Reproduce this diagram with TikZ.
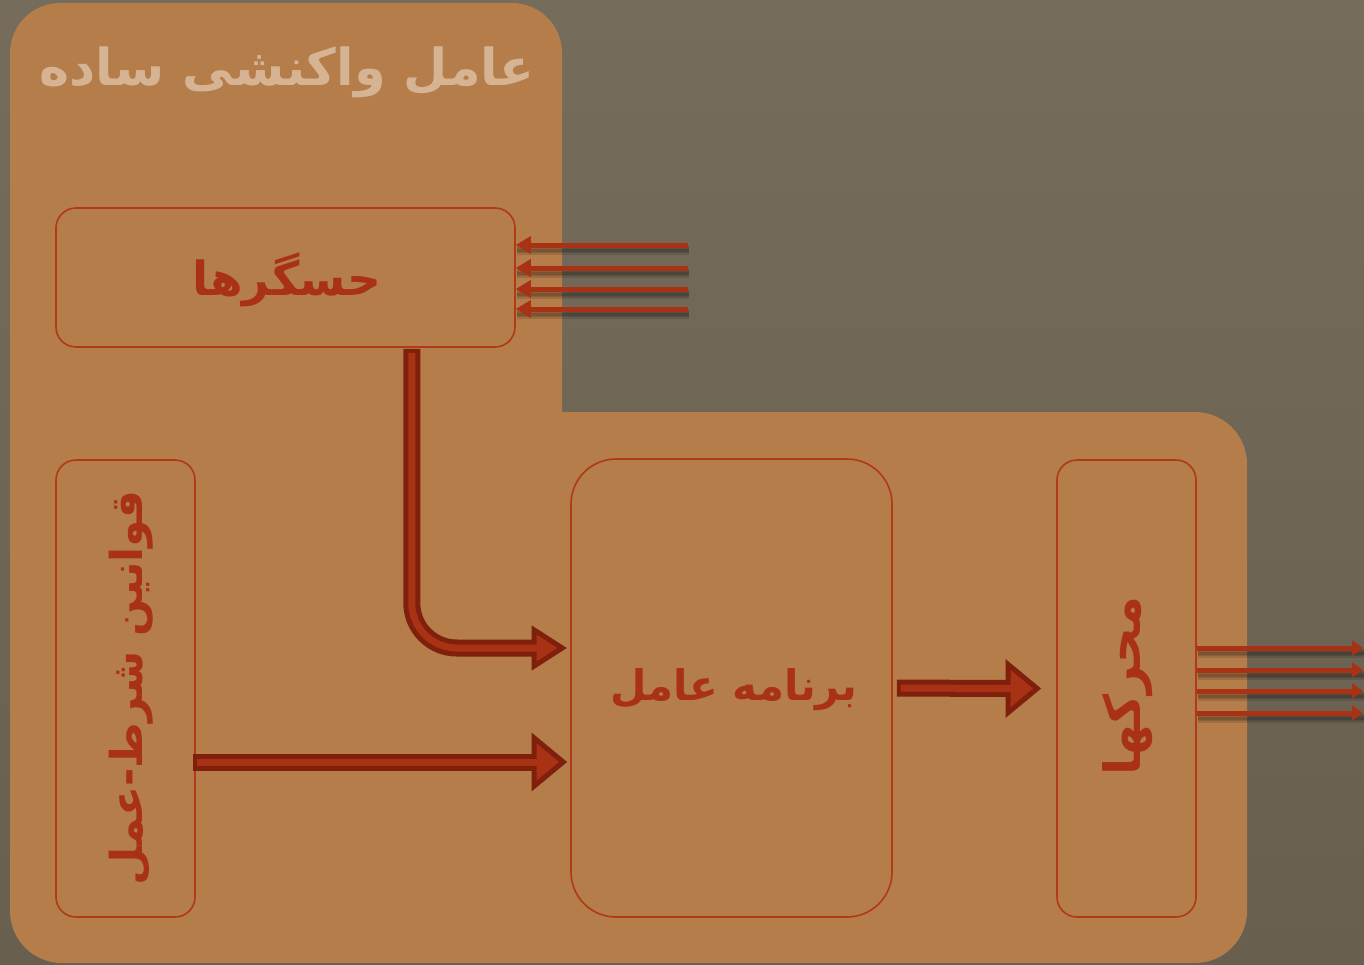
\documentclass[tikz,border=0pt]{standalone}
\usepackage{fontspec}
\usetikzlibrary{arrows.meta,calc}
\TeXXeTstate=1
\newfontfamily\arabicfont[Script=Arabic]{DejaVu Sans}

\definecolor{bgtop}{HTML}{756C5C}
\definecolor{bgbot}{HTML}{695F4F}
\definecolor{panel}{HTML}{B47D4A}
\definecolor{titlecol}{HTML}{D6B393}
\definecolor{rust}{HTML}{AA3214}
\definecolor{rustline}{HTML}{B2381A}
\definecolor{rustdark}{HTML}{7E200C}

\newcommand{\arsize}[1]{\arabicfont\bfseries\fontsize{#1}{#1}\selectfont}

\tikzset{
  box/.style={draw=rustline, line width=1.6pt, rounded corners=20pt, inner sep=0pt},
  label/.style={text=rust},
  thinarrow/.style={draw=rust, line width=5pt, -{Triangle[length=15pt,width=17pt]}},
  outarrow/.style={draw=rust, line width=5pt, -{Triangle[length=11pt,width=15pt]}},
  shadowline/.style={draw=black, opacity=0.12, line width=#1},
  fatouter/.style={draw=rustdark, line width=17pt},
  fatinner/.style={draw=rust, line width=7pt},
  fathead/.style={fill=rust, draw=rustdark, line width=5pt, line join=miter},
}

\begin{document}
\begin{tikzpicture}[x=1pt, y=-1pt]
  \useasboundingbox (0,0) rectangle (1364,964);
  \shade[top color=bgtop, bottom color=bgbot] (0,0) rectangle (1364,964);

  % L-shaped agent panel
  \fill[panel, rounded corners=50pt] (10,3) rectangle (562,520);
  \fill[panel, rounded corners=52pt] (10,412) rectangle (1247,963);

  % title
  \node[text=titlecol, font=\arsize{51}] (title) at (287,72) {\beginR عامل واکنشی ساده\endR};

  % components
  \node[box, minimum width=459pt, minimum height=139pt] (sensors) at (285.5,277.5) {};
  \node[label, font=\arsize{47}] (sensorstext) at (287,280) {\beginR حسگرها\endR};
  \node[box, minimum width=139pt, minimum height=457pt] (rules) at (125.5,688.5) {};
  \node[label, font=\arsize{44}, rotate=90] (rulestext) at (131,688) {\beginR قوانین شرط-عمل\endR};
  \node[box, rounded corners=45pt, minimum width=321pt, minimum height=458pt] (program) at (731.5,688) {};
  \node[label, font=\arsize{42}] (programtext) at (734,690) {\beginR برنامه عامل\endR};
  \node[box, minimum width=139pt, minimum height=457pt] (actuators) at (1126.5,688.5) {};
  \node[label, font=\arsize{50}, rotate=90] (acttext) at (1128,686) {\beginR محرکها\endR};

  % percepts coming in
  \foreach \y [count=\i] in {245,268,289,309} {
    \coordinate (in\i) at (688,\y);
    \foreach \w in {9pt,6pt,3pt}
      \draw[shadowline=\w, transform canvas={shift={(1pt,-5pt)}}] (in\i) -- (sensors.east |- in\i);
    \draw[thinarrow] (in\i) -- (sensors.east |- in\i);
  }

  % actions going out
  \foreach \y [count=\i] in {648,670,691,713} {
    \coordinate (out\i) at (1363,\y);
    \foreach \w in {9pt,6pt,3pt}
      \draw[shadowline=\w, transform canvas={shift={(1pt,-5pt)}}] (actuators.east |- out\i) -- (out\i);
    \draw[outarrow] (actuators.east |- out\i) -- (out\i);
  }

  % sensors -> program
  \coordinate (a1s) at ($(sensors.south east)+(-104,1)$);
  \coordinate (a1b) at ($(program.west)+(-36,-40)$);
  \coordinate (a1t) at ($(program.west)+(-8,-40)$);
  \draw[fatouter, rounded corners=45pt] (a1s) |- (a1b);
  \filldraw[fathead] ($(a1b)+(0,-18)$) -- (a1t) -- ($(a1b)+(0,18)$) -- cycle;
  \draw[fatinner, rounded corners=45pt] ($(a1s)+(0,4)$) |- ($(a1b)+(6,0)$);

  % rules -> program
  \coordinate (a2s) at ($(rules.east |- 0,762)+(-3,0)$);
  \coordinate (a2b) at ($(program.west |- a2s)+(-36,0)$);
  \coordinate (a2t) at ($(program.west |- a2s)+(-7,0)$);
  \draw[fatouter] (a2s) -- (a2b);
  \filldraw[fathead] ($(a2b)+(0,-24)$) -- (a2t) -- ($(a2b)+(0,24)$) -- cycle;
  \draw[fatinner] ($(a2s)+(4,0)$) -- ($(a2b)+(6,0)$);

  % program -> actuators
  \coordinate (a3s) at ($(program.east)+(4,0)$);
  \coordinate (a3b) at ($(actuators.west)+(-48,0)$);
  \coordinate (a3t) at ($(actuators.west)+(-19,0)$);
  \draw[fatouter] (a3s) -- (a3b);
  \filldraw[fathead] ($(a3b)+(0,-24)$) -- (a3t) -- ($(a3b)+(0,24)$) -- cycle;
  \draw[fatinner] ($(a3s)+(4,0)$) -- ($(a3b)+(6,0)$);
\end{tikzpicture}
\end{document}
